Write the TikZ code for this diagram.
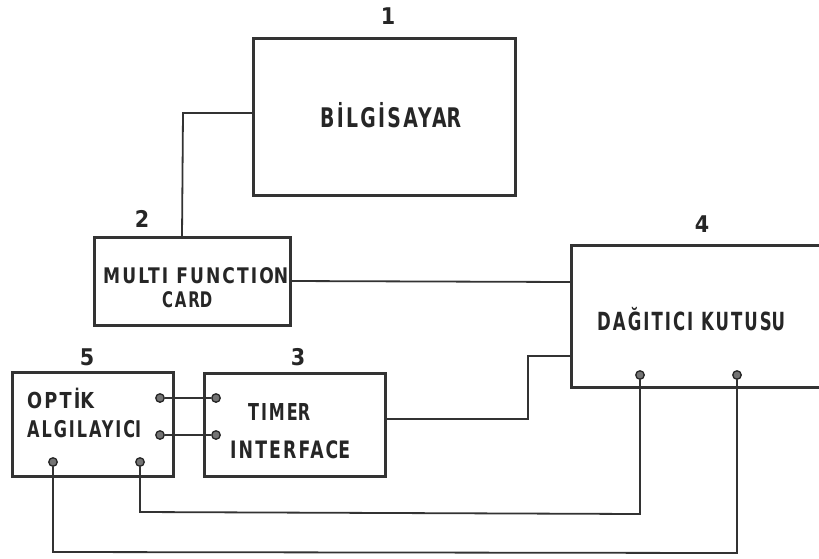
\documentclass[tikz,border=0pt]{standalone}
\usepackage{fontspec}
\usepackage{graphicx}
\newfontfamily\lab[LetterSpace=11]{DejaVu Sans Condensed Bold}
\newfontfamily\labn{DejaVu Sans Condensed Bold}
\newcommand{\fitw}[2]{\resizebox{#1}{\height}{#2}}
\begin{document}
\begin{tikzpicture}[x=1pt,y=-1pt,
  box/.style={draw=black!80, line width=3pt},
  wire/.style={draw=black!80, line width=1.8pt},
  term/.style={circle, draw=black!85, fill=black!55, line width=1.3pt, inner sep=0pt, minimum size=8.5pt},
  lbl/.style={text=black!85, inner sep=0pt, anchor=base west},
  num/.style={font=\labn\fontsize{23}{26}\selectfont, text=black!85, inner sep=0pt, anchor=base}]
\useasboundingbox (0,0) rectangle (819,558);
% boxes
\draw[box] (253,38) rectangle (515,195);
\draw[box] (94,237) rectangle (290,325);
\draw[box] (819,245) -- (571,245) -- (571,387) -- (819,387);
\draw[box] (12,372) rectangle (173,476);
\draw[box] (204,373) rectangle (385,476);
% texts
\node[lbl, font=\lab\fontsize{27}{30}\selectfont] (tbil) at (320,127) {\fitw{141pt}{BİLGİSAYA\labn R}};
\node[lbl, font=\lab\fontsize{21.5}{24}\selectfont] (tmfc1) at (103,283) {\fitw{185pt}{MULTI FUNCTIO\labn N}};
\node[lbl, font=\lab\fontsize{21.5}{24}\selectfont] (tmfc2) at (162,307) {\fitw{50pt}{CAR\labn D}};
\node[lbl, font=\lab\fontsize{25}{28}\selectfont] (tdag) at (597,330) {\fitw{188pt}{DAĞITICI KUTUS\labn U}};
\node[lbl, font=\lab\fontsize{22}{24}\selectfont] (topt1) at (27,408) {\fitw{67pt}{OPTİ\labn K}};
\node[lbl, font=\lab\fontsize{23}{24}\selectfont] (topt2) at (27,437) {\fitw{114pt}{ALGILAYIC\labn I}};
\node[lbl, font=\lab\fontsize{23.3}{26}\selectfont] (ttim1) at (248,420) {\fitw{62pt}{TIME\labn R}};
\node[lbl, font=\lab\fontsize{24}{26}\selectfont] (ttim2) at (230,458) {\fitw{120pt}{INTERFAC\labn E}};
% numbers
\node[num] (n1) at (388,24) {1};
\node[num] (n2) at (142,227) {2};
\node[num] (n3) at (298,365) {3};
\node[num] (n4) at (702,232) {4};
\node[num] (n5) at (87,365) {5};
% connection points
\coordinate (bL) at (253,113);
\coordinate (mT) at (182,237);
\coordinate (mR) at (290,281);
\coordinate (dL1) at (571,282);
\coordinate (dL2) at (571,356);
\coordinate (tR) at (385,419);
% terminals
\node[term] (o1) at (160,398) {};
\node[term] (o2) at (160,435) {};
\node[term] (t1) at (216,398) {};
\node[term] (t2) at (216,435) {};
\node[term] (ob1) at (53,462) {};
\node[term] (ob2) at (140,462) {};
\node[term] (d1) at (640,375) {};
\node[term] (d2) at (737,375) {};
% wires
\draw[wire] (bL) -- (183,113) -- (mT);
\draw[wire] (mR) -- (dL1);
\draw[wire] (tR) -- (528,419) -- (528,356) -- (dL2);
\draw[wire] (o1) -- (t1);
\draw[wire] (o2) -- (t2);
\draw[wire] (ob2) -- (140,512) -- (640,514) -- (d1);
\draw[wire] (ob1) -- (53,552) -- (737,553) -- (d2);
\end{tikzpicture}
\end{document}
